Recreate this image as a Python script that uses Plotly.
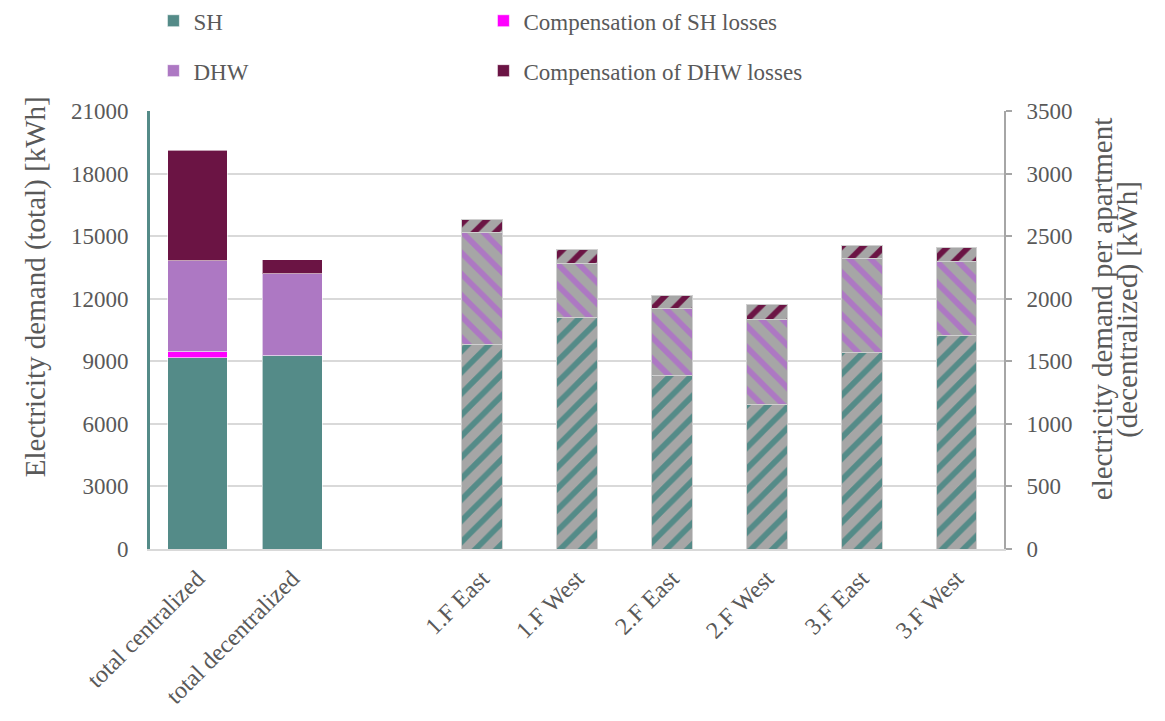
import plotly.graph_objects as go

# ---- data ----
categories = ["total centralized", "total decentralized", " ",
              "1.F East", "1.F West", "2.F East", "2.F West", "3.F East", "3.F West"]
total_cats = ["total centralized", "total decentralized"]
apt_cats = ["1.F East", "1.F West", "2.F East", "2.F West", "3.F East", "3.F West"]

# totals (left axis, kWh)
total_sh = [9160, 9270]
total_sh_loss = [290, 0]
total_dhw = [4360, 3920]
total_dhw_loss = [5320, 670]

# per apartment (right axis, kWh)
apt_sh = [1638, 1851, 1390, 1156, 1572, 1710]
apt_dhw = [893, 432, 528, 679, 751, 591]
apt_dhw_loss = [106, 114, 111, 115, 106, 110]

series_names = ["SH", "Compensation of SH losses", "DHW", "Compensation of DHW losses"]
colors = {"SH": "#548B88", "Compensation of SH losses": "#FF00FF",
          "DHW": "#AD78C3", "Compensation of DHW losses": "#6B1444"}

left_title = "Electricity demand (total) [kWh]"
right_title_lines = ["electricity demand per apartment", "(decentralized) [kWh]"]

FONT = "'Liberation Serif', 'Times New Roman', Times, serif"
TXT = "#595959"
GRAY = "#A6A6A6"

fig = go.Figure()

total_vals = [total_sh, total_sh_loss, total_dhw, total_dhw_loss]
legend_of = {"SH": "legend", "Compensation of SH losses": "legend",
             "DHW": "legend2", "Compensation of DHW losses": "legend2"}
for name, vals in zip(series_names, total_vals):
    fig.add_trace(go.Bar(
        x=total_cats, y=vals, name=name, width=0.63,
        marker=dict(color=colors[name], line=dict(color="rgba(255,255,255,0.6)", width=1)),
        legend=legend_of[name], yaxis="y", showlegend=True,
    ))

apt_series = [("SH", apt_sh, "/"), ("DHW", apt_dhw, "\\"), ("Compensation of DHW losses", apt_dhw_loss, "/")]
for name, vals, shape in apt_series:
    fig.add_trace(go.Bar(
        x=apt_cats, y=vals, name=name, width=0.43, yaxis="y2", showlegend=False,
        marker=dict(color=GRAY,
                    line=dict(color="#D0D0D0", width=1),
                    pattern=dict(shape=shape, fgcolor=colors[name], bgcolor=GRAY,
                                 size=15, solidity=0.38, fillmode="replace")),
    ))

W, H = 1149, 705
annotations = [
    dict(text=left_title, xref="paper", yref="paper", x=-0.1347, y=0.600,
         xanchor="center", yanchor="middle", textangle=-90, showarrow=False,
         font=dict(size=29, family=FONT, color=TXT)),
    dict(text=right_title_lines[0], xref="paper", yref="paper", x=1.115, y=0.548,
         xanchor="center", yanchor="middle", textangle=-90, showarrow=False,
         font=dict(size=29, family=FONT, color=TXT)),
    dict(text=right_title_lines[1], xref="paper", yref="paper", x=1.145, y=0.548,
         xanchor="center", yanchor="middle", textangle=-90, showarrow=False,
         font=dict(size=29, family=FONT, color=TXT)),
]

fig.update_layout(
    width=W, height=H,
    barmode="stack",
    plot_bgcolor="white", paper_bgcolor="white",
    font=dict(family=FONT, color=TXT, size=22),
    margin=dict(l=142, r=153, t=103, b=164, autoexpand=False),
    annotations=annotations,
    xaxis=dict(
        type="category", categoryorder="array", categoryarray=categories,
        range=[-0.5, len(categories) - 0.5],
        tickangle=-45, tickfont=dict(size=24, family=FONT, color=TXT),
        showline=True, linecolor="#D9D9D9", linewidth=2,
        showgrid=False, ticks="", ticklabelstandoff=4,
    ),
    yaxis=dict(
        range=[0, 21000], dtick=3000, tick0=0, tickformat="d",
        showgrid=True, gridcolor="#D9D9D9", gridwidth=2,
        showline=True, linecolor="#548B88", linewidth=3,
        zeroline=False, ticks="", ticklabelstandoff=14,
        tickfont=dict(size=23, family=FONT, color=TXT),
    ),
    yaxis2=dict(
        overlaying="y", side="right",
        range=[0, 3500], dtick=500, tick0=0, tickformat="d",
        showgrid=False, zeroline=False,
        showline=True, linecolor=GRAY, linewidth=2,
        ticks="outside", ticklen=6, tickcolor=GRAY, tickwidth=2,
        ticklabelstandoff=10,
        tickfont=dict(size=23, family=FONT, color=TXT),
    ),
    legend=dict(orientation="h", x=0.004, xanchor="left", y=1.206, yanchor="middle",
                entrywidth=285, entrywidthmode="pixels", itemwidth=30,
                font=dict(size=23, family=FONT, color=TXT), bgcolor="rgba(0,0,0,0)",
                traceorder="normal"),
    legend2=dict(orientation="h", x=0.004, xanchor="left", y=1.092, yanchor="middle",
                 entrywidth=285, entrywidthmode="pixels", itemwidth=30,
                 font=dict(size=23, family=FONT, color=TXT), bgcolor="rgba(0,0,0,0)",
                 traceorder="normal"),
    hovermode=False,
)

fig.write_html("out.html")
